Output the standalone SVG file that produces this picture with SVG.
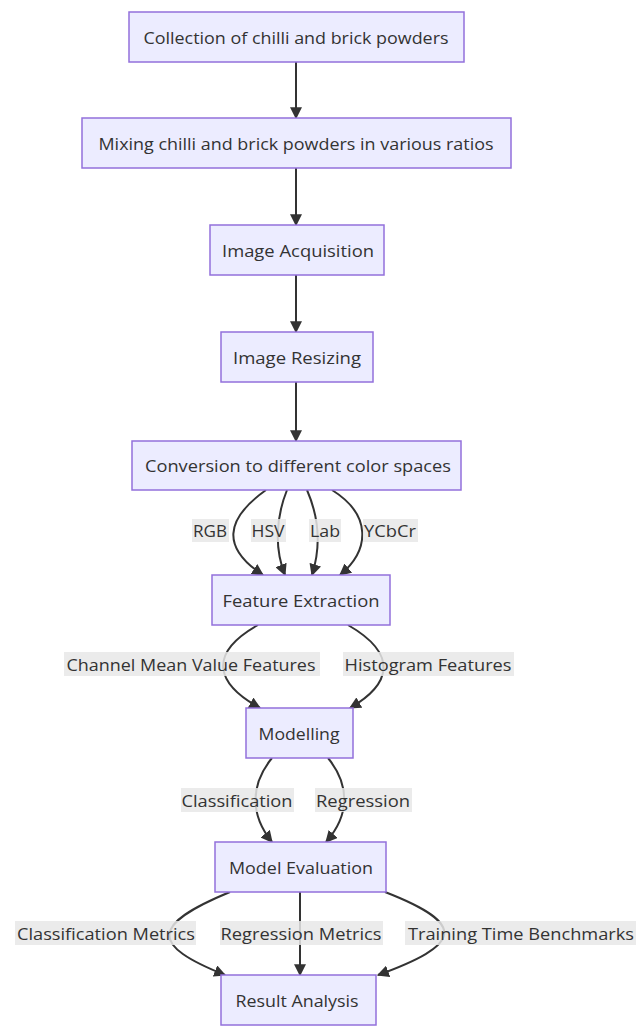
<svg xmlns="http://www.w3.org/2000/svg" width="644" height="1026" viewBox="0 0 644 1026">
<style>
.node rect{fill:#ECECFF;stroke:#9370DB;stroke-width:1.5}
text{font-family:"Open Sans","Noto Sans","DejaVu Sans",sans-serif;font-size:17px;fill:#333;text-anchor:middle;dominant-baseline:central}
.edge{fill:none;stroke:#333;stroke-width:2;marker-end:url(#arr)}
.lbl rect{fill:#e8e8e8;opacity:0.85}
</style>
<defs>
<marker id="arr" viewBox="0 0 10 10" refX="9" refY="5" markerWidth="6" markerHeight="6" markerUnits="strokeWidth" orient="auto">
<path d="M0,0 L10,5 L0,10 z" fill="#333"/>
</marker>
</defs>
<rect width="644" height="1026" fill="#fff"/>
<g id="connectors">
<path class="edge" d="M296,62 L296,118"/>
<path class="edge" d="M296,168 L296,225"/>
<path class="edge" d="M296,275 L296,332"/>
<path class="edge" d="M296,382 L296,441"/>
<path class="edge" d="M266,490 C224,520 222,548 263,575"/>
<path class="edge" d="M287,490 C275,520 275,550 285,575"/>
<path class="edge" d="M307,490 C320,520 320,550 312,575"/>
<path class="edge" d="M332,490 C372,515 370,550 340,575"/>
<path class="edge" d="M258,625 C205,655 218,685 260,708"/>
<path class="edge" d="M348,625 C400,655 390,685 350,708"/>
<path class="edge" d="M272,758 C250,785 250,815 272,842"/>
<path class="edge" d="M328,758 C350,785 350,815 326,842"/>
<path class="edge" d="M230,892 C150,925 150,945 225,975"/>
<path class="edge" d="M300,892 L300,975"/>
<path class="edge" d="M385,892 C470,925 460,945 378,975"/>
</g>
<g id="edge-labels">
<g class="lbl"><rect x="192" y="519" width="37" height="23"/><text x="210" y="530" textLength="34" lengthAdjust="spacingAndGlyphs">RGB</text></g>
<g class="lbl"><rect x="251" y="519" width="35" height="23"/><text x="268" y="530" textLength="33" lengthAdjust="spacingAndGlyphs">HSV</text></g>
<g class="lbl"><rect x="309" y="519" width="32" height="23"/><text x="325" y="530" textLength="30" lengthAdjust="spacingAndGlyphs">Lab</text></g>
<g class="lbl"><rect x="363" y="519" width="55" height="23"/><text x="390" y="530" textLength="52" lengthAdjust="spacingAndGlyphs">YCbCr</text></g>
<g class="lbl"><rect x="64" y="652" width="256" height="24"/><text x="191" y="664" textLength="249" lengthAdjust="spacingAndGlyphs">Channel Mean Value Features</text></g>
<g class="lbl"><rect x="343" y="652" width="171" height="24"/><text x="428" y="664" textLength="167" lengthAdjust="spacingAndGlyphs">Histogram Features</text></g>
<g class="lbl"><rect x="181" y="788" width="113" height="24"/><text x="237" y="800" textLength="111" lengthAdjust="spacingAndGlyphs">Classification</text></g>
<g class="lbl"><rect x="315" y="788" width="97" height="24"/><text x="363" y="800" textLength="94" lengthAdjust="spacingAndGlyphs">Regression</text></g>
<g class="lbl"><rect x="15" y="921" width="181" height="24"/><text x="106" y="933" textLength="178" lengthAdjust="spacingAndGlyphs">Classification Metrics</text></g>
<g class="lbl"><rect x="220" y="921" width="163" height="24"/><text x="301" y="933" textLength="161" lengthAdjust="spacingAndGlyphs">Regression Metrics</text></g>
<g class="lbl"><rect x="405" y="921" width="231" height="24"/><text x="521" y="933" textLength="226" lengthAdjust="spacingAndGlyphs">Training Time Benchmarks</text></g>
</g>
<g id="n1" class="node"><rect x="129" y="12" width="335" height="50"/><text x="296" y="37" textLength="305" lengthAdjust="spacingAndGlyphs">Collection of chilli and brick powders</text></g>
<g id="n2" class="node"><rect x="82" y="118" width="429" height="50"/><text x="296" y="143" textLength="395" lengthAdjust="spacingAndGlyphs">Mixing chilli and brick powders in various ratios</text></g>
<g id="n3" class="node"><rect x="210" y="225" width="174" height="50"/><text x="298" y="250" textLength="152" lengthAdjust="spacingAndGlyphs">Image Acquisition</text></g>
<g id="n4" class="node"><rect x="221" y="332" width="152" height="50"/><text x="297" y="357" textLength="128" lengthAdjust="spacingAndGlyphs">Image Resizing</text></g>
<g id="n5" class="node"><rect x="132" y="441" width="329" height="49"/><text x="298" y="465" textLength="306" lengthAdjust="spacingAndGlyphs">Conversion to different color spaces</text></g>
<g id="n6" class="node"><rect x="212" y="575" width="178" height="50"/><text x="301" y="600" textLength="157" lengthAdjust="spacingAndGlyphs">Feature Extraction</text></g>
<g id="n7" class="node"><rect x="246" y="708" width="107" height="50"/><text x="299" y="733" textLength="81" lengthAdjust="spacingAndGlyphs">Modelling</text></g>
<g id="n8" class="node"><rect x="215" y="842" width="171" height="50"/><text x="301" y="867" textLength="144" lengthAdjust="spacingAndGlyphs">Model Evaluation</text></g>
<g id="n9" class="node"><rect x="221" y="975" width="155" height="50"/><text x="297" y="1000" textLength="123" lengthAdjust="spacingAndGlyphs">Result Analysis</text></g>
</svg>
